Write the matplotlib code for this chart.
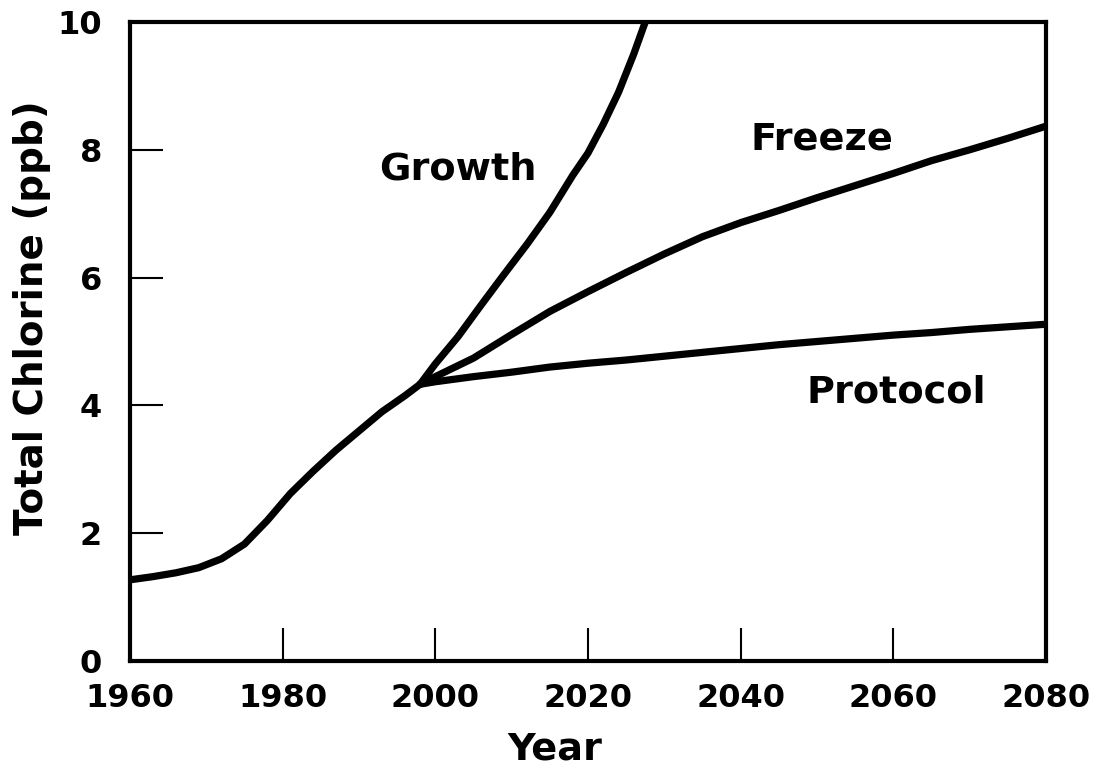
import matplotlib
matplotlib.use("Agg")
import matplotlib.pyplot as plt

plt.rcParams["font.family"] = ["DejaVu Sans"]
plt.rcParams["font.weight"] = "bold"

# values (total chlorine, ppb)
years_hist = [1960, 1963, 1966, 1969, 1972, 1975, 1978, 1981, 1984, 1987,
              1990, 1993, 1996, 1998]
cl_hist = [1.27, 1.32, 1.38, 1.46, 1.60, 1.83, 2.20, 2.62, 2.97, 3.30,
           3.60, 3.90, 4.15, 4.33]

years_growth = [1998, 2000, 2003, 2006, 2009, 2012, 2015, 2018, 2020, 2022,
                2024, 2026, 2027.5]
cl_growth = [4.33, 4.65, 5.08, 5.57, 6.05, 6.52, 7.02, 7.60, 7.95, 8.40,
             8.90, 9.50, 10.0]

years_scen = [1998, 2000, 2005, 2010, 2015, 2020, 2025, 2030, 2035, 2040,
              2045, 2050, 2055, 2060, 2065, 2070, 2075, 2080]
cl_freeze = [4.33, 4.45, 4.74, 5.11, 5.47, 5.78, 6.08, 6.37, 6.64, 6.86,
             7.05, 7.25, 7.44, 7.63, 7.83, 8.00, 8.18, 8.37]
cl_protocol = [4.33, 4.37, 4.45, 4.52, 4.60, 4.66, 4.71, 4.77, 4.83, 4.89,
               4.95, 5.00, 5.05, 5.10, 5.14, 5.19, 5.23, 5.27]

xticks = [1960, 1980, 2000, 2020, 2040, 2060, 2080]
yticks = [0, 2, 4, 6, 8, 10]

fig = plt.figure(figsize=(10.97, 7.72), dpi=100)
ax = fig.add_axes([0.1185, 0.1438, 0.835, 0.8277])

lw = 5.2
for xs, ys in [(years_hist, cl_hist), (years_growth, cl_growth),
               (years_scen, cl_freeze), (years_scen, cl_protocol)]:
    ax.plot(xs, ys, color="black", lw=lw, solid_capstyle="round",
            solid_joinstyle="round")

ax.set_xlim(1960, 2080)
ax.set_ylim(0, 10)
ax.set_xticks(xticks)
ax.set_yticks(yticks)
ax.tick_params(direction="in", length=24, width=1.5, labelsize=23)
ax.tick_params(axis="x", pad=16)
ax.tick_params(axis="y", pad=20)
for lab in ax.get_xticklabels() + ax.get_yticklabels():
    lab.set_fontweight("bold")

for sp in ax.spines.values():
    sp.set_linewidth(3)

ax.set_xlabel("Year", fontsize=27.5, fontweight="bold", va="center")
ax.xaxis.set_label_coords(0.464, -0.139)
ax.set_ylabel("Total Chlorine (ppb)", fontsize=28, fontweight="bold",
              va="center", ha="center")
ax.yaxis.set_label_coords(-0.107, 0.537)

ax.text(2003.0, 7.53, "Growth", fontsize=27.5, fontweight="bold",
        ha="center", va="baseline")
ax.text(2050.7, 8.01, "Freeze", fontsize=27.5, fontweight="bold",
        ha="center", va="baseline")
ax.text(2060.4, 4.04, "Protocol", fontsize=27.5, fontweight="bold",
        ha="center", va="baseline")

fig.savefig("out.png", dpi=100)
